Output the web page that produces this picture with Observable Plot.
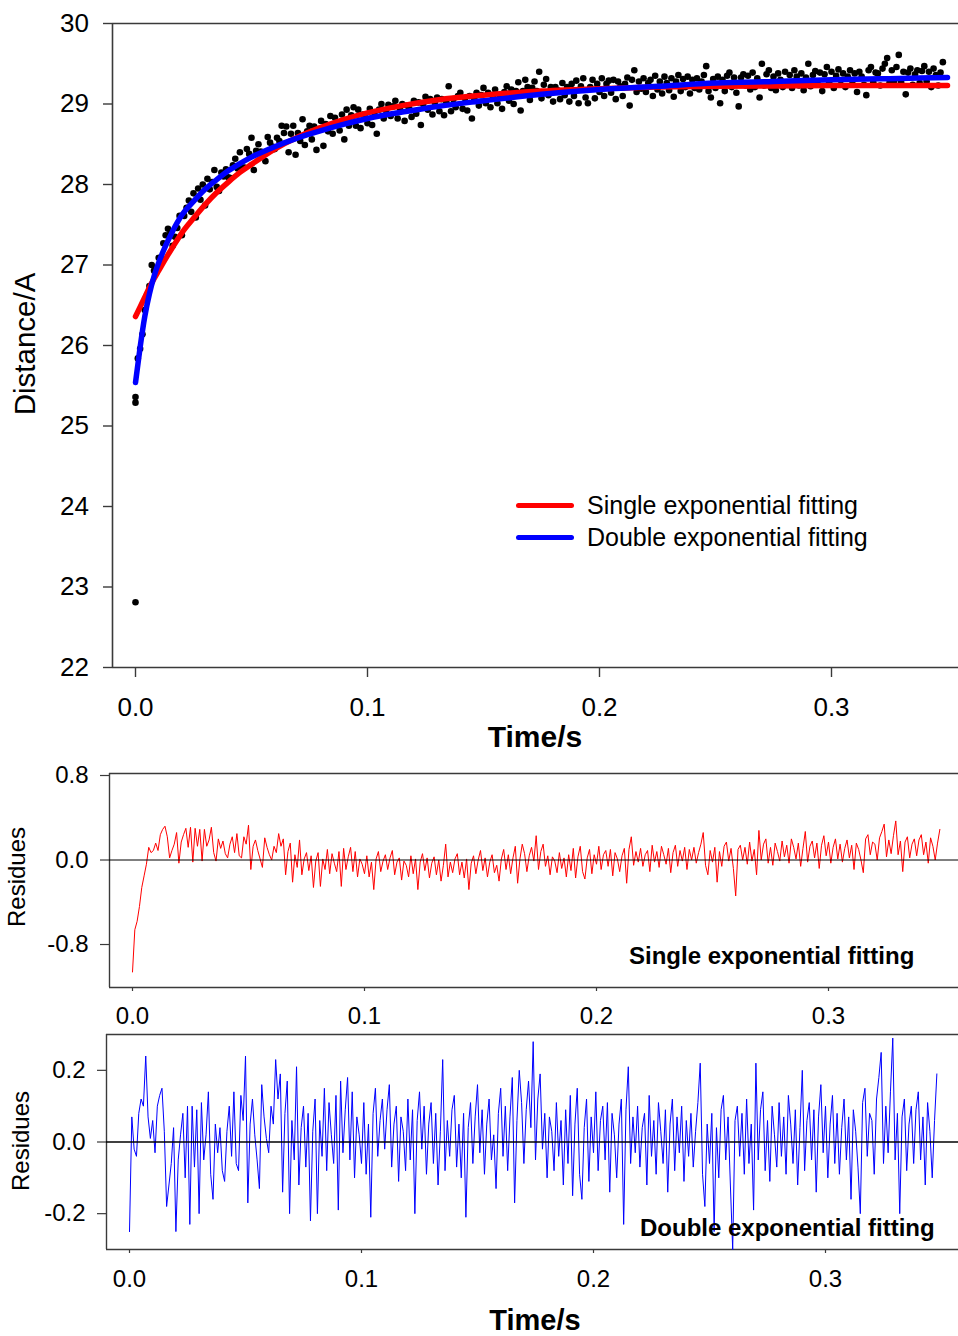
<!DOCTYPE html>
<html><head><meta charset="utf-8">
<script src="https://cdn.jsdelivr.net/npm/d3@7"></script>
<script src="https://cdn.jsdelivr.net/npm/@observablehq/plot@0.6"></script>
<style>
body{margin:0;background:#fff;}
#wrap{position:relative;width:958px;height:1336px;overflow:hidden;font-family:"Liberation Sans",Arial,Helvetica,sans-serif;color:#000;background:#fff;}
#wrap svg{position:absolute;left:0;}
.t{position:absolute;white-space:nowrap;line-height:1;}
.rot{transform:translate(-50%,-50%) rotate(-90deg);}
.ctr{transform:translate(-50%,-50%);}
.lft{transform:translate(0,-50%);}
.bar{position:absolute;height:5px;border-radius:3px;}
</style></head><body><div id="wrap"></div>
<script>
// ---- data ----
const time = [
0,.001,.002,.003,.004,.005,.006,.007,.008,.009,
.010,.011,.012,.013,.014,.015,.016,.017,.018,.019,
.020,.021,.022,.023,.024,.025,.026,.027,.028,.029,
.030,.031,.032,.033,.034,.035,.036,.037,.038,.039,
.040,.041,.042,.043,.044,.045,.046,.047,.048,.049,
.050,.051,.052,.053,.054,.055,.056,.057,.058,.059,
.060,.061,.062,.063,.064,.065,.066,.067,.068,.069,
.070,.071,.072,.073,.074,.075,.076,.077,.078,.079,
.080,.081,.082,.083,.084,.085,.086,.087,.088,.089,
.090,.091,.092,.093,.094,.095,.096,.097,.098,.099,
.100,.101,.102,.103,.104,.105,.106,.107,.108,.109,
.110,.111,.112,.113,.114,.115,.116,.117,.118,.119,
.120,.121,.122,.123,.124,.125,.126,.127,.128,.129,
.130,.131,.132,.133,.134,.135,.136,.137,.138,.139,
.140,.141,.142,.143,.144,.145,.146,.147,.148,.149,
.150,.151,.152,.153,.154,.155,.156,.157,.158,.159,
.160,.161,.162,.163,.164,.165,.166,.167,.168,.169,
.170,.171,.172,.173,.174,.175,.176,.177,.178,.179,
.180,.181,.182,.183,.184,.185,.186,.187,.188,.189,
.190,.191,.192,.193,.194,.195,.196,.197,.198,.199,
.200,.201,.202,.203,.204,.205,.206,.207,.208,.209,
.210,.211,.212,.213,.214,.215,.216,.217,.218,.219,
.220,.221,.222,.223,.224,.225,.226,.227,.228,.229,
.230,.231,.232,.233,.234,.235,.236,.237,.238,.239,
.240,.241,.242,.243,.244,.245,.246,.247,.248,.249,
.250,.251,.252,.253,.254,.255,.256,.257,.258,.259,
.260,.261,.262,.263,.264,.265,.266,.267,.268,.269,
.270,.271,.272,.273,.274,.275,.276,.277,.278,.279,
.280,.281,.282,.283,.284,.285,.286,.287,.288,.289,
.290,.291,.292,.293,.294,.295,.296,.297,.298,.299,
.300,.301,.302,.303,.304,.305,.306,.307,.308,.309,
.310,.311,.312,.313,.314,.315,.316,.317,.318,.319,
.320,.321,.322,.323,.324,.325,.326,.327,.328,.329,
.330,.331,.332,.333,.334,.335,.336,.337,.338,.339,
.340,.341,.342,.343,.344,.345,.346,.347,.348];

const distance = [
25.29,25.84,25.96,26.14,26.44,26.63,26.74,27.00,26.93,26.96,
27.09,27.07,27.27,27.37,27.45,27.39,27.24,27.35,27.46,27.61,
27.37,27.61,27.71,27.80,27.66,27.89,27.59,27.95,27.81,28.00,
27.74,28.07,27.94,28.03,28.18,27.97,27.92,28.15,28.10,28.19,
28.09,28.08,28.24,28.32,28.20,28.40,28.21,28.21,28.44,28.38,
28.58,28.18,28.42,28.50,28.41,28.36,28.29,28.59,28.52,28.47,
28.44,28.58,28.54,28.73,28.64,28.72,28.40,28.63,28.73,28.37,
28.64,28.54,28.81,28.49,28.66,28.73,28.56,28.72,28.43,28.69,
28.79,28.48,28.75,28.66,28.85,28.63,28.83,28.75,28.67,28.87,
28.56,28.93,28.73,28.86,28.96,28.73,28.93,28.70,28.87,28.83,
28.76,28.94,28.74,28.89,28.63,28.93,29.00,28.82,28.92,28.99,
28.85,28.97,29.04,28.82,28.94,29.00,28.79,28.98,28.94,28.84,
29.04,28.88,29.02,28.74,29.00,29.09,28.93,29.06,28.87,29.02,
29.08,28.91,29.06,28.86,29.02,29.22,28.91,29.06,28.96,29.10,
29.14,28.94,29.07,28.92,29.10,28.82,29.07,29.14,28.98,29.11,
29.20,29.01,29.14,28.96,29.10,29.18,29.01,29.08,28.94,29.15,
29.22,29.04,29.18,29.00,29.16,29.27,28.92,29.16,29.30,29.21,
29.05,29.20,29.28,29.16,29.40,29.07,29.24,29.31,29.11,29.21,
29.03,29.21,29.17,29.06,29.26,29.11,29.21,29.03,29.25,29.10,
29.29,29.01,29.22,29.32,29.08,29.01,29.21,29.30,29.07,29.25,
29.15,29.32,29.10,29.25,29.29,29.14,29.30,29.06,29.28,29.22,
29.10,29.25,29.33,28.98,29.30,29.42,29.15,29.28,29.19,29.32,
29.15,29.26,29.30,29.10,29.35,29.18,29.28,29.13,29.34,29.26,
29.17,29.32,29.09,29.28,29.36,29.16,29.31,29.21,29.34,29.13,
29.30,29.20,29.32,29.18,29.28,29.36,29.47,29.16,29.08,29.31,
29.20,29.34,29.01,29.30,29.16,29.35,29.39,29.21,29.33,29.14,
28.97,29.33,29.37,29.23,29.35,29.18,29.39,29.21,29.32,29.08,
29.50,29.23,29.37,29.42,29.20,29.34,29.17,29.38,29.30,29.21,
29.40,29.25,29.36,29.20,29.42,29.34,29.23,29.38,29.17,29.33,
29.50,29.22,29.36,29.41,29.25,29.39,29.16,29.37,29.46,29.27,
29.40,29.20,29.35,29.43,29.24,29.38,29.21,29.34,29.42,29.25,
29.38,29.15,29.40,29.34,29.24,29.11,29.42,29.46,29.27,29.39,
29.38,29.23,29.44,29.50,29.57,29.26,29.42,29.29,29.46,29.61,
29.27,29.40,29.12,29.39,29.44,29.24,29.37,29.42,29.26,29.41,
29.47,29.28,29.40,29.21,29.44,29.36,29.23,29.39,29.52];

// extra early points (outliers at t = 0)
const extraTime = [0, 0];
const extraDistance = [22.81, 25.36];

const fitTime = [0,.002,.004,.006,.008,.010,.013,.016,.020,.025,.030,.035,.040,.045,.050,.060,.070,.080,.090,.100,.115,.130,.150,.175,.200,.225,.250,.275,.300,.325,.350];
const singleFit = [26.36,26.48,26.60,26.72,26.83,26.93,27.08,27.22,27.40,27.58,27.75,27.90,28.03,28.15,28.25,28.44,28.59,28.71,28.81,28.89,28.98,29.05,29.11,29.16,29.19,29.21,29.22,29.225,29.23,29.23,29.23];
const doubleFit = [25.54,25.98,26.36,26.64,26.86,27.03,27.24,27.42,27.62,27.79,27.94,28.06,28.17,28.26,28.34,28.47,28.58,28.67,28.75,28.82,28.90,28.97,29.04,29.12,29.18,29.22,29.26,29.28,29.30,29.315,29.33];

const singleResidues = [
-1.06,-0.66,-0.58,-0.44,-0.26,-0.15,-0.04,0.12,0.07,0.09,
0.16,0.09,0.24,0.29,0.32,0.22,0.02,0.09,0.15,0.26,
-0.03,0.17,0.24,0.30,0.12,0.31,-0.02,0.30,0.13,0.29,
-0.01,0.29,0.13,0.19,0.31,0.07,-0.01,0.20,0.11,0.18,
0.06,0.02,0.15,0.22,0.07,0.25,0.04,0.02,0.22,0.15,
0.33,-0.09,0.13,0.19,0.09,0.01,-0.07,0.21,0.12,0.05,
0.00,0.13,0.07,0.25,0.13,0.20,-0.14,0.08,0.16,-0.21,
0.05,-0.07,0.19,-0.14,0.01,0.07,-0.10,0.04,-0.26,-0.01,
0.07,-0.25,0.01,-0.09,0.10,-0.13,0.06,-0.03,-0.11,0.08,
-0.25,0.11,-0.09,0.03,0.12,-0.11,0.08,-0.16,0.01,-0.04,
-0.13,0.04,-0.16,-0.02,-0.28,0.01,0.08,-0.11,-0.01,0.05,
-0.09,0.02,0.09,-0.14,-0.02,0.02,-0.19,-0.01,-0.05,-0.16,
0.04,-0.13,0.01,-0.28,-0.02,0.06,-0.10,0.02,-0.17,-0.03,
0.03,-0.14,0.00,-0.20,-0.05,0.15,-0.16,-0.02,-0.12,0.01,
0.06,-0.14,-0.02,-0.17,0.01,-0.28,-0.03,0.04,-0.13,0.00,
0.09,-0.10,0.02,-0.16,-0.02,0.05,-0.12,-0.05,-0.20,0.01,
0.10,-0.09,0.05,-0.13,0.02,0.13,-0.22,0.01,0.15,0.06,
-0.11,0.04,0.12,-0.01,0.23,-0.09,0.08,0.15,-0.06,0.04,
-0.14,0.03,-0.01,-0.12,0.07,-0.08,0.02,-0.16,0.05,-0.10,
0.11,-0.17,0.03,0.13,-0.11,-0.18,0.02,0.10,-0.13,0.05,
-0.04,0.13,-0.09,0.05,0.09,-0.06,0.10,-0.15,0.07,0.01,
-0.11,0.04,0.11,-0.22,0.10,0.22,-0.05,0.08,-0.02,0.11,
-0.06,0.05,0.09,-0.11,0.14,-0.02,0.08,-0.07,0.13,0.05,
-0.04,0.11,-0.12,0.07,0.14,-0.06,0.09,-0.01,0.12,-0.09,
0.10,0.00,0.12,-0.03,0.07,0.15,0.26,-0.05,-0.14,0.09,
-0.02,0.12,-0.21,0.08,-0.06,0.13,0.17,-0.01,0.11,-0.08,
-0.34,0.10,0.14,0.00,0.12,-0.04,0.17,-0.01,0.10,-0.14,
0.28,0.00,0.15,0.20,-0.03,0.12,-0.05,0.16,0.08,-0.01,
0.18,0.03,0.14,-0.03,0.20,0.12,0.01,0.16,-0.06,0.11,
0.27,-0.02,0.13,0.18,0.02,0.16,-0.08,0.14,0.23,0.04,
0.17,-0.03,0.12,0.20,0.01,0.15,-0.02,0.11,0.19,0.02,
0.14,-0.09,0.16,0.10,0.00,-0.12,0.20,0.24,0.05,0.17,
0.15,0.00,0.21,0.27,0.34,0.03,0.19,0.06,0.23,0.37,
0.05,0.18,-0.11,0.17,0.22,0.02,0.15,0.20,0.04,0.19,
0.24,0.05,0.17,-0.03,0.21,0.13,0.00,0.16,0.29];

const doubleResidues = [
-0.25,0.07,-0.02,-0.04,0.08,0.12,0.10,0.24,0.07,0.01,
0.06,-0.03,0.10,0.13,0.15,0.03,-0.18,-0.12,-0.06,0.04,
-0.25,-0.05,0.02,0.08,-0.10,0.10,-0.23,0.10,-0.07,0.09,
-0.20,0.11,-0.05,0.02,0.14,-0.09,-0.16,0.05,-0.03,0.04,
-0.08,-0.11,0.03,0.10,-0.04,0.14,-0.06,-0.08,0.13,0.06,
0.24,-0.17,0.05,0.12,0.02,-0.05,-0.13,0.16,0.07,0.01,
-0.03,0.10,0.05,0.23,0.12,0.19,-0.14,0.08,0.17,-0.20,
0.06,-0.05,0.21,-0.12,0.04,0.10,-0.07,0.08,-0.22,0.03,
0.12,-0.20,0.06,-0.04,0.15,-0.08,0.11,0.02,-0.06,0.13,
-0.19,0.17,-0.03,0.09,0.18,-0.05,0.14,-0.10,0.07,0.02,
-0.06,0.11,-0.09,0.05,-0.21,0.08,0.15,-0.04,0.06,0.12,
-0.02,0.09,0.16,-0.07,0.05,0.10,-0.11,0.07,0.03,-0.08,
0.12,-0.05,0.09,-0.20,0.06,0.14,-0.02,0.10,-0.09,0.05,
0.11,-0.06,0.08,-0.12,0.03,0.23,-0.08,0.06,-0.04,0.09,
0.13,-0.07,0.05,-0.10,0.08,-0.21,0.04,0.11,-0.06,0.07,
0.16,-0.03,0.09,-0.09,0.05,0.12,-0.05,0.02,-0.13,0.08,
0.15,-0.04,0.10,-0.08,0.07,0.18,-0.17,0.06,0.20,0.11,
-0.06,0.09,0.17,0.04,0.28,-0.05,0.12,0.19,-0.02,0.08,
-0.10,0.07,0.03,-0.08,0.11,-0.04,0.06,-0.12,0.09,-0.06,
0.13,-0.15,0.05,0.15,-0.09,-0.16,0.04,0.12,-0.11,0.07,
-0.03,0.14,-0.08,0.06,0.10,-0.05,0.11,-0.14,0.08,0.02,
-0.10,0.05,0.12,-0.23,0.09,0.21,-0.06,0.07,-0.03,0.10,
-0.07,0.04,0.08,-0.12,0.13,-0.04,0.06,-0.09,0.11,0.03,
-0.06,0.09,-0.14,0.05,0.12,-0.08,0.07,-0.03,0.10,-0.11,
0.06,-0.04,0.08,-0.07,0.03,0.11,0.22,-0.09,-0.18,0.05,
-0.06,0.08,-0.25,0.04,-0.10,0.09,0.13,-0.05,0.07,-0.12,
-0.30,0.06,0.10,-0.04,0.08,-0.09,0.12,-0.06,0.05,-0.19,
0.22,-0.05,0.09,0.14,-0.08,0.06,-0.11,0.10,0.02,-0.07,
0.11,-0.04,0.07,-0.09,0.13,0.05,-0.06,0.09,-0.12,0.04,
0.20,-0.08,0.06,0.11,-0.05,0.09,-0.14,0.07,0.16,-0.03,
0.10,-0.10,0.05,0.13,-0.06,0.08,-0.09,0.04,0.12,-0.05,
0.07,-0.16,0.09,0.03,-0.07,-0.20,0.11,0.15,-0.04,0.08,
0.06,-0.09,0.12,0.18,0.25,-0.06,0.10,-0.03,0.14,0.29,
-0.05,0.08,-0.20,0.07,0.12,-0.08,0.05,0.10,-0.06,0.09,
0.14,-0.05,0.07,-0.12,0.11,0.03,-0.10,0.06,0.19];

const xTicks = [0, 0.1, 0.2, 0.3];
const yTicksTop = [22, 23, 24, 25, 26, 27, 28, 29, 30];
const yTicksMid = [-0.8, 0, 0.8];
const yTicksBot = [-0.2, 0, 0.2];
const seriesNames = ["Single exponential fitting", "Double exponential fitting"];
const seriesColors = ["#ff0000", "#0000ff"];

// ---- build ----
const FONT = '"Liberation Sans", Arial, Helvetica, sans-serif';
const AX = "#3a3a3a";
const wrap = document.getElementById("wrap");
const fmt1 = d => d.toFixed(1);

const pts = time.map((t, i) => ({t, y: distance[i]}))
  .concat(extraTime.map((t, i) => ({t, y: extraDistance[i]})));
const fitS = fitTime.map((t, i) => ({t, y: singleFit[i]}));
const fitD = fitTime.map((t, i) => ({t, y: doubleFit[i]}));
const resS = time.map((t, i) => ({t, v: singleResidues[i]}));
const resD = time.map((t, i) => ({t, v: doubleResidues[i]}));

function place(svg, top) { svg.style.top = top + "px"; wrap.appendChild(svg); }

// Top panel
const x0Top = [-23 / 2320, 823 / 2320];
const topPlot = Plot.plot({
  width: 958, height: 760, marginTop: 23, marginBottom: 93, marginLeft: 112, marginRight: 0,
  style: {fontFamily: FONT, background: "transparent", overflow: "visible", color: "#000"},
  x: {domain: x0Top, axis: null},
  y: {domain: [22, 30], axis: null},
  marks: [
    Plot.ruleY([30], {stroke: AX, strokeWidth: 1.6}),
    Plot.ruleY([22], {stroke: AX, strokeWidth: 1.6}),
    Plot.ruleX([x0Top[0]], {stroke: AX, strokeWidth: 1.6}),
    Plot.axisY({ticks: yTicksTop, tickSize: 9, tickPadding: 14.5, fontSize: 26, stroke: AX, strokeWidth: 1.4, tickFormat: d => String(d), label: null}),
    Plot.axisX({ticks: xTicks, tickSize: 10, tickPadding: 20, fontSize: 26, stroke: AX, strokeWidth: 1.4, tickFormat: fmt1, label: null}),
    Plot.dot(pts, {x: "t", y: "y", r: 3.3, fill: "#000", stroke: null}),
    Plot.line(fitS, {x: "t", y: "y", stroke: seriesColors[0], strokeWidth: 5.5, curve: "monotone-x", strokeLinecap: "round"}),
    Plot.line(fitD, {x: "t", y: "y", stroke: seriesColors[1], strokeWidth: 5.5, curve: "monotone-x", strokeLinecap: "round"})
  ]
});
place(topPlot, 0);

// Middle panel (single exponential residues)
const xMid = [-23 / 2320, 826 / 2320];
const midPlot = Plot.plot({
  width: 958, height: 280, marginTop: 23, marginBottom: 43, marginLeft: 109, marginRight: 0,
  style: {fontFamily: FONT, background: "transparent", overflow: "visible", color: "#000"},
  x: {domain: xMid, axis: null},
  y: {domain: [-1.207, 0.819], axis: null},
  marks: [
    Plot.ruleY([0.819], {stroke: AX, strokeWidth: 1.4}),
    Plot.ruleY([-1.207], {stroke: AX, strokeWidth: 1.4}),
    Plot.ruleX([xMid[0]], {stroke: AX, strokeWidth: 1.4}),
    Plot.axisY({ticks: yTicksMid, tickSize: 9, tickPadding: 12, fontSize: 24, stroke: AX, strokeWidth: 1.2, tickFormat: fmt1, label: null}),
    Plot.axisX({ticks: xTicks, tickSize: 4, tickPadding: 15, fontSize: 24, stroke: AX, strokeWidth: 1.2, tickFormat: fmt1, label: null}),
    Plot.line(resS, {x: "t", y: "v", stroke: seriesColors[0], strokeWidth: 1}),
    Plot.ruleY([0], {stroke: "#000", strokeWidth: 1})
  ]
});
place(midPlot, 750);

// Bottom panel (double exponential residues)
const xBot = [-23 / 2320, 829 / 2320];
const botPlot = Plot.plot({
  width: 958, height: 290, marginTop: 24, marginBottom: 51, marginLeft: 106, marginRight: 0,
  style: {fontFamily: FONT, background: "transparent", overflow: "visible", color: "#000"},
  x: {domain: xBot, axis: null},
  y: {domain: [-0.3, 0.3], axis: null},
  marks: [
    Plot.ruleY([0.3], {stroke: AX, strokeWidth: 1.4}),
    Plot.ruleY([-0.3], {stroke: AX, strokeWidth: 1.4}),
    Plot.ruleX([xBot[0]], {stroke: AX, strokeWidth: 1.4}),
    Plot.axisY({ticks: yTicksBot, tickSize: 9, tickPadding: 12, fontSize: 24, stroke: AX, strokeWidth: 1.2, tickFormat: fmt1, label: null}),
    Plot.axisX({ticks: xTicks, tickSize: 4, tickPadding: 16, fontSize: 24, stroke: AX, strokeWidth: 1.2, tickFormat: fmt1, label: null}),
    Plot.line(resD, {x: "t", y: "v", stroke: seriesColors[1], strokeWidth: 1}),
    Plot.ruleY([0], {stroke: "#000", strokeWidth: 1.6})
  ]
});
place(botPlot, 1010);

// ---- texts & legend ----
function txt(s, cls, x, y, size, weight) {
  const d = document.createElement("div");
  d.className = "t " + cls;
  d.textContent = s;
  d.style.left = x + "px"; d.style.top = y + "px";
  d.style.fontSize = size + "px";
  if (weight) d.style.fontWeight = weight;
  wrap.appendChild(d);
}
txt("Distance/A", "rot", 25, 344, 29.5);
txt("Time/s", "ctr", 535, 737, 30, "bold");
txt("Residues", "rot", 17, 877, 24);
txt("Residues", "rot", 21, 1141, 24);
txt("Time/s", "ctr", 535, 1320, 29, "bold");
txt(seriesNames[0], "lft", 629, 956, 24, "bold");
txt(seriesNames[1], "lft", 640, 1228, 24, "bold");
// legend
[505, 537].forEach((y, i) => {
  const b = document.createElement("div");
  b.className = "bar";
  b.style.left = "516px"; b.style.top = (y - 2.5) + "px"; b.style.width = "58px";
  b.style.background = seriesColors[i];
  wrap.appendChild(b);
  txt(seriesNames[i], "lft", 587, y, 25);
});
</script>
</body></html>
